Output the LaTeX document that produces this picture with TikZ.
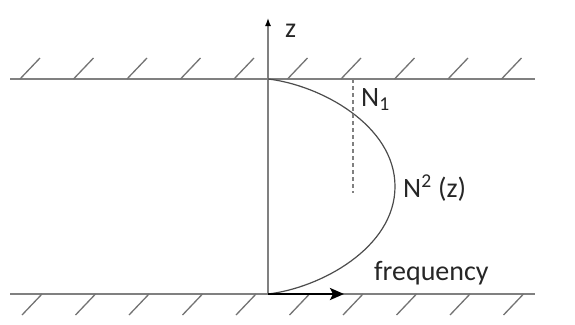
\documentclass[tikz,border=0pt]{standalone}
\usepackage{fontspec}
\setmainfont{Carlito}
\usetikzlibrary{arrows.meta,positioning}

\begin{document}
\begin{tikzpicture}[
  x=1pt, y=-1pt,
  font=\fontsize{28}{32}\selectfont,
  wall/.style={draw=gray, line width=1.4pt},
  hatch/.style={draw=gray!90!black, line width=1.3pt},
  zaxis/.style={draw=gray, line width=1.4pt, -{Latex[length=8pt, width=6pt, black]}},
  freq/.style={draw=black, line width=2.4pt, -{Stealth[length=14pt, width=12pt, inset=3pt]}},
  profile/.style={draw=black!70, line width=1.2pt},
  level/.style={draw=gray, line width=1.2pt, dash pattern=on 4pt off 3pt},
  lbl/.style={inner sep=0pt, text=black!85}]
\useasboundingbox (0,0) rectangle (575,324);
% walls
\coordinate (wtl) at (10,79);
\coordinate (wtr) at (535,79);
\coordinate (wbl) at (10,294);
\coordinate (wbr) at (535,294);
\draw[wall] (wtl) -- (wtr);
\draw[wall] (wbl) -- (wbr);
\foreach \i in {0,...,9} {
  \draw[hatch] (20+53.5*\i,79) -- ++(20,-21);
  \draw[hatch] (42+53.5*\i,294) -- ++(-20,21);
}
% axes
\coordinate (origin) at (268,294);
\coordinate (top) at (268,79);
\coordinate (ztip) at (268,18);
\coordinate (ftip) at (344,294);
\draw[zaxis] (origin) -- (ztip);
\node[lbl, anchor=west] (zlab) at (285,31) {z};
% N^2 profile
\coordinate (peak) at (395,186.5);
\draw[profile] (top) .. controls (320,85) and (395,125) .. (peak)
  .. controls (395,248) and (320,288) .. (origin);
\draw[freq] (origin) -- (ftip);
% N_1 level
\coordinate (n1top) at (353,79);
\coordinate (n1bot) at (353,193);
\draw[level] (n1top) -- (n1bot);
\node[lbl, anchor=base west] (n1) at (361,106) {N\textsubscript{1}};
\node[lbl, anchor=base west] (n2) at (403,197) {N\textsuperscript{2} (z)};
\node[lbl, anchor=base west] (flab) at (374,280) {frequency};
\end{tikzpicture}
\end{document}
